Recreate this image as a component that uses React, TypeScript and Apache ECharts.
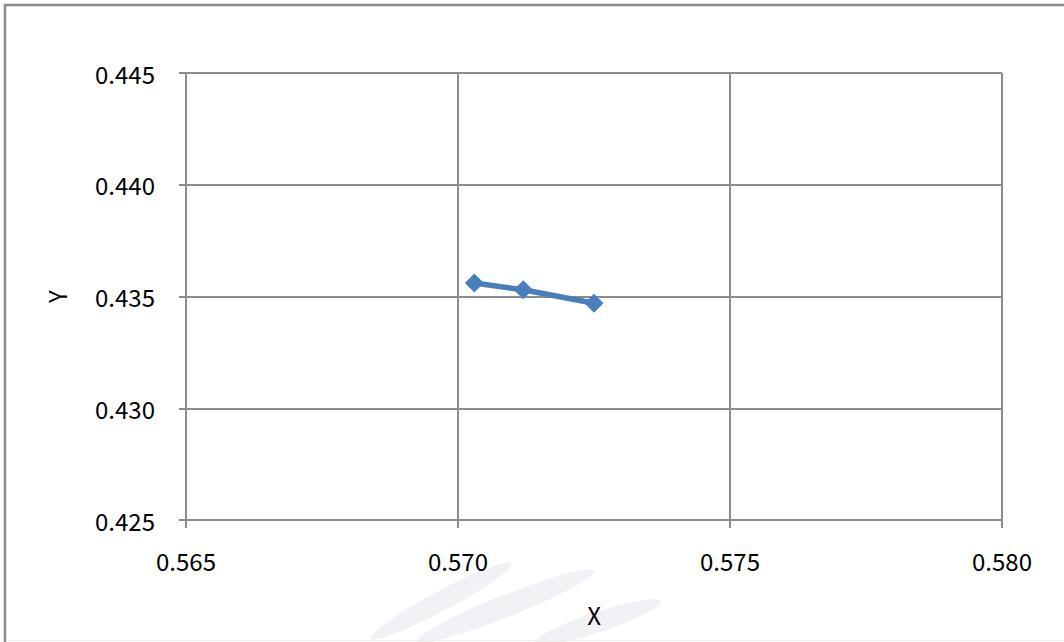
import React, { useEffect, useRef } from "react";
import * as echarts from "echarts";

const xValues = [0.5703, 0.5712, 0.5725];
const yValues = [0.4356, 0.4353, 0.4347];
const xTicks = [0.565, 0.57, 0.575, 0.58];
const yTicks = [0.425, 0.43, 0.435, 0.44, 0.445];
const xTitle = "X";
const yTitle = "Y";

const FONT = "'Noto Sans CJK KR', 'Liberation Sans', sans-serif";
const GRID = "#8c8c8c";
const BLUE = "#4a7ebb";

export default function App() {
  const ref = useRef<HTMLDivElement>(null);
  useEffect(() => {
    if (!ref.current) return;
    const chart = echarts.init(ref.current, null, { renderer: "svg" });
    const data = xValues.map((x, i) => [x, yValues[i]]);
    chart.setOption({
      animation: false,
      backgroundColor: "#ffffff",
      grid: { left: 186, right: 62, top: 73, bottom: 122 },
      xAxis: {
        type: "value",
        min: xTicks[0],
        max: xTicks[xTicks.length - 1],
        interval: 0.005,
        name: xTitle,
        nameLocation: "middle",
        nameGap: 82,
        nameTextStyle: { fontFamily: FONT, fontSize: 24, color: "#000" },
        axisLine: { show: true, lineStyle: { color: GRID, width: 2 } },
        axisTick: { show: true, length: 8, lineStyle: { color: GRID, width: 2 } },
        axisLabel: {
          margin: 28,
          fontFamily: FONT,
          fontSize: 24,
          color: "#000",
          formatter: (v: number) => v.toFixed(3),
        },
        splitLine: { show: true, lineStyle: { color: GRID, width: 2 } },
      },
      yAxis: {
        type: "value",
        min: yTicks[0],
        max: yTicks[yTicks.length - 1],
        interval: 0.005,
        name: yTitle,
        nameLocation: "middle",
        nameGap: 118,
        nameTextStyle: { fontFamily: FONT, fontSize: 24, color: "#000" },
        axisLine: { show: true, lineStyle: { color: GRID, width: 2 } },
        axisTick: { show: true, length: 7, lineStyle: { color: GRID, width: 2 } },
        axisLabel: {
          margin: 31,
          fontFamily: FONT,
          fontSize: 24,
          color: "#000",
          formatter: (v: number) => v.toFixed(3),
        },
        splitLine: { show: true, lineStyle: { color: GRID, width: 2 } },
      },
      graphic: [
        {
          type: "ellipse",
          x: 441,
          y: 601,
          rotation: 0.49,
          shape: { cx: 0, cy: 0, rx: 80, ry: 10 },
          style: { fill: "#f1f2f5" },
          z: -10,
        },
        {
          type: "ellipse",
          x: 506,
          y: 606,
          rotation: 0.38,
          shape: { cx: 0, cy: 0, rx: 95, ry: 11 },
          style: { fill: "#f1f2f5" },
          z: -10,
        },
        {
          type: "ellipse",
          x: 598,
          y: 622,
          rotation: 0.32,
          shape: { cx: 0, cy: 0, rx: 66, ry: 10 },
          style: { fill: "#f1f2f5" },
          z: -10,
        },
        {
          type: "polyline",
          shape: { points: [[5, 642], [5, 5], [1064, 5]] },
          style: { fill: "none", stroke: GRID, lineWidth: 2.5 },
          z: 10,
        },
        {
          type: "line",
          shape: { x1: 6, y1: 640.5, x2: 1064, y2: 640.5 },
          style: { stroke: "#ececec", lineWidth: 1 },
          z: 10,
        },
      ],
      series: [
        {
          type: "line",
          data,
          symbol: "diamond",
          symbolSize: 19,
          itemStyle: { color: BLUE },
          lineStyle: { color: BLUE, width: 5.5 },
        },
      ],
    });
    return () => chart.dispose();
  }, []);
  return (
    <div
      ref={ref}
      style={{ position: "fixed", left: 0, top: 0, width: 1064, height: 642 }}
    />
  );
}
